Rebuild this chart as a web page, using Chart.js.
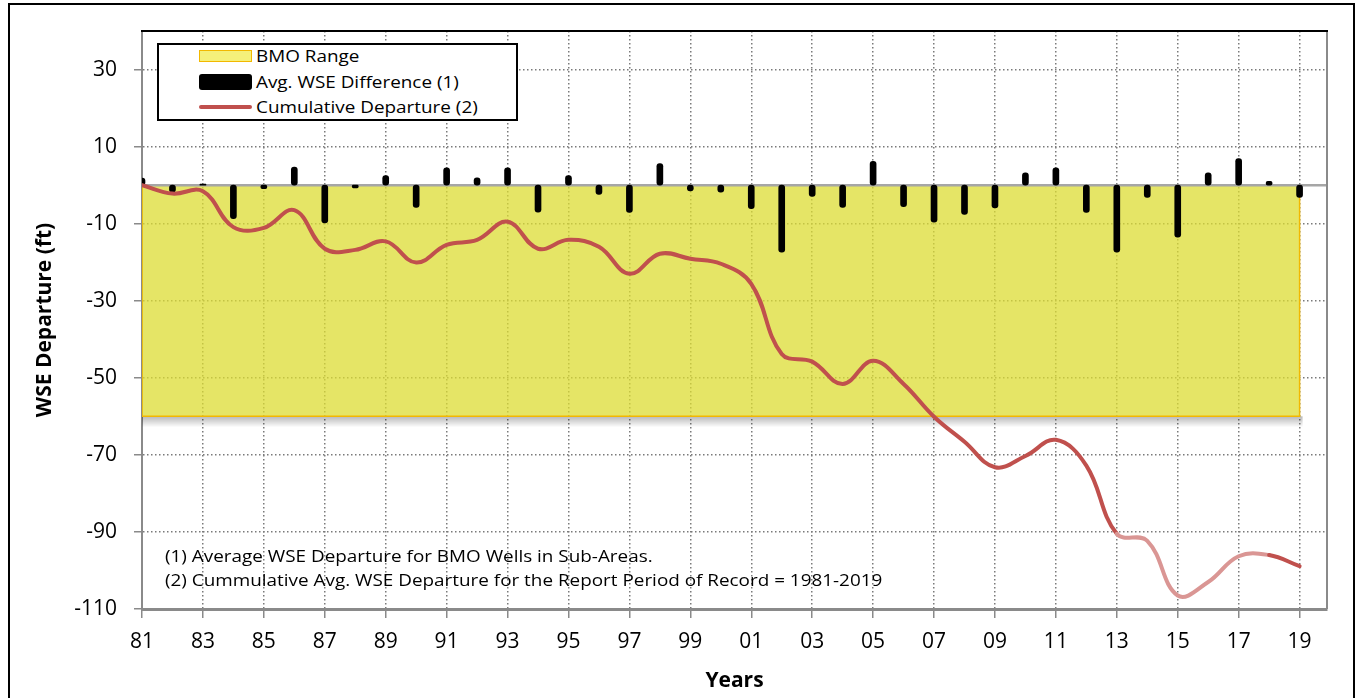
<!DOCTYPE html>
<html>
<head>
<meta charset="utf-8">
<script src="https://cdn.jsdelivr.net/npm/chart.js@4.4.0/dist/chart.umd.min.js"></script>
<style>
  html, body { margin: 0; padding: 0; background: #fff; }
  #wrap { position: relative; width: 1364px; height: 698px; overflow: hidden; font-family: "Open Sans", sans-serif; }
  #frame { position: absolute; left: 8px; top: 3px; width: 1347px; height: 740px; border: 2px solid #000; box-sizing: border-box; }
  #chart { position: absolute; left: 0; top: 0; }
  #legend { position: absolute; left: 157px; top: 43px; width: 361px; height: 78px; border: 2px solid #000; background: #fff; box-sizing: border-box; }
  .item { position: absolute; left: 0; width: 100%; height: 24px; }
  .swatch { position: absolute; left: 40px; width: 53px; top: 50%; transform: translateY(-50%); box-sizing: border-box; }
  .item span { position: absolute; left: 97px; top: 50%; transform: translateY(-50%) scaleX(1.18); transform-origin: left center; font-size: 16px; color: #000; white-space: nowrap; line-height: 1; }
  .note { position: absolute; left: 165px; font-size: 16px; color: #000; white-space: nowrap; line-height: 1; transform: translateY(-50%) scaleX(1.18); transform-origin: left center; }
</style>
</head>
<body>
<div id="wrap">
  <div id="frame"></div>
  <canvas id="chart" width="1364" height="698"></canvas>
  <div id="legend"></div>
  <div class="note" style="top:556px">(1) Average WSE Departure for BMO Wells in Sub-Areas.</div>
  <div class="note" style="top:580px">(2) Cummulative Avg. WSE Departure for the Report Period of Record = 1981-2019</div>
</div>
<script>
// years 1981 - 2019
const years = [1981, 1982, 1983, 1984, 1985, 1986, 1987, 1988, 1989, 1990,
               1991, 1992, 1993, 1994, 1995, 1996, 1997, 1998, 1999, 2000,
               2001, 2002, 2003, 2004, 2005, 2006, 2007, 2008, 2009, 2010,
               2011, 2012, 2013, 2014, 2015, 2016, 2017, 2018, 2019];

// Avg. WSE Difference (1), ft
const avgWseDiff = [1.8, -1.8, 0.3, -8.7, -0.9, 4.7, -9.8, -0.7, 2.5, -5.8,
                    4.5, 1.9, 4.5, -7.0, 2.5, -2.4, -7.1, 5.6, -1.5, -1.8,
                    -6.1, -17.4, -2.9, -5.8, 6.2, -5.6, -9.6, -7.6, -5.9, 3.2,
                    4.5, -7.1, -17.4, -3.2, -13.5, 3.2, 6.9, 1.0, -3.2];

// Cumulative Departure (2), ft
const cumDeparture = [0, -2.2, -1.6, -10.9, -11.1, -6.5, -16.5, -16.8, -14.6, -20.1,
                      -15.5, -14.2, -9.5, -16.5, -14.2, -16.0, -23.0, -17.8, -19.1, -20.4,
                      -25.6, -43.8, -45.8, -51.6, -45.6, -51.6, -60.1, -66.6, -73.2, -70.3,
                      -66.1, -72.8, -90.5, -92.3, -106.5, -103.0, -96.3, -96.0, -98.9];

// BMO range (top, bottom) and the years it covers
const bmoRange = [0, -60];
const bmoYears = [1981, 2019];

// axis ticks
const xTickYears = [1981, 1983, 1985, 1987, 1989, 1991, 1993, 1995, 1997, 1999,
                    2001, 2003, 2005, 2007, 2009, 2011, 2013, 2015, 2017, 2019];
const xTickLabels = ['81', '83', '85', '87', '89', '91', '93', '95', '97', '99',
                     '01', '03', '05', '07', '09', '11', '13', '15', '17', '19'];
const yTickValues = [-110, -90, -70, -50, -30, -10, 10, 30];

const labels = ['BMO Range', 'Avg. WSE Difference (1)', 'Cumulative Departure (2)'];

const RED = '#C0504D';
const RED_LIGHT = '#DA9694';
const YELLOW = 'rgba(220, 220, 51, 0.75)';
const ORANGE = '#F2B800';
const AXIS_GREY = '#8A8A8A';
const GRID_GREY = '#7A7A7A';
const FONT = '"Open Sans", sans-serif';

// html legend
const legendEl = document.getElementById('legend');
const swatches = [
    'height:12px;background:#F5F07A;border:1.5px solid ' + ORANGE + ';',
    'height:16px;background:#000;border-radius:3px;',
    'height:4px;background:' + RED + ';border-radius:2px;'
];
const rowCenters = [11, 37, 62];
labels.forEach(function(txt, i) {
    const row = document.createElement('div');
    row.className = 'item';
    row.style.top = (rowCenters[i] - 12) + 'px';
    row.innerHTML = '<div class="swatch" style="' + swatches[i] + '"></div><span>' + txt + '</span>';
    legendEl.appendChild(row);
});

// zero line under the bars, shadow under the BMO box, plot frame
const extras = {
    id: 'extras',
    beforeDatasetsDraw(chart) {
        const { ctx, scales: { x, y } } = chart;
        const x0 = x.getPixelForValue(bmoYears[0]);
        const x1 = x.getPixelForValue(bmoYears[1]);
        const yb = y.getPixelForValue(bmoRange[1]);
        const g = ctx.createLinearGradient(0, yb, 0, yb + 11);
        g.addColorStop(0, 'rgba(0,0,0,0.28)');
        g.addColorStop(1, 'rgba(0,0,0,0)');
        ctx.save();
        ctx.fillStyle = g;
        ctx.fillRect(x0, yb, x1 - x0 + 3, 11);
        ctx.restore();
    },
    beforeDatasetDraw(chart, args) {
        if (args.meta.type !== 'bar') return;
        const { ctx, chartArea, scales: { y } } = chart;
        const yz = y.getPixelForValue(0);
        ctx.save();
        ctx.strokeStyle = '#A6A6A6';
        ctx.lineWidth = 2.5;
        ctx.beginPath();
        ctx.moveTo(chartArea.left, yz);
        ctx.lineTo(chartArea.right, yz);
        ctx.stroke();
        ctx.restore();
    },
    afterDatasetsDraw(chart) {
        const { ctx, chartArea: a } = chart;
        ctx.save();
        ctx.strokeStyle = AXIS_GREY;
        ctx.lineWidth = 2;
        ctx.beginPath();
        ctx.moveTo(a.right, a.top);
        ctx.lineTo(a.right, a.bottom);
        ctx.stroke();
        ctx.strokeStyle = '#000';
        ctx.beginPath();
        ctx.moveTo(a.left - 1, a.top);
        ctx.lineTo(a.right + 1, a.top);
        ctx.stroke();
        ctx.restore();
    }
};

const ctx = document.getElementById('chart').getContext('2d');

new Chart(ctx, {
    type: 'bar',
    data: {
        datasets: [
            {
                type: 'line',
                label: labels[2],
                data: years.map((yr, i) => ({ x: yr, y: cumDeparture[i] })),
                borderColor: RED,
                borderWidth: 4,
                borderCapStyle: 'round',
                pointRadius: 0,
                tension: 0.4,
                fill: false,
                order: 0,
                segment: {
                    // faded stretch of the line, 2013 - 2018
                    borderColor: c => (c.p0DataIndex >= 32 && c.p0DataIndex <= 36) ? RED_LIGHT : RED
                }
            },
            {
                type: 'bar',
                label: labels[1],
                data: years.map((yr, i) => ({ x: yr, y: avgWseDiff[i] })),
                backgroundColor: '#000',
                barThickness: 6,
                borderRadius: 3,
                borderSkipped: false,
                order: 1
            },
            {
                type: 'line',
                label: labels[0],
                data: [
                    { x: bmoYears[0], y: bmoRange[0] },
                    { x: bmoYears[0], y: bmoRange[1] },
                    { x: bmoYears[1], y: bmoRange[1] },
                    { x: bmoYears[1], y: bmoRange[0] }
                ],
                borderColor: ORANGE,
                borderWidth: 1.5,
                backgroundColor: YELLOW,
                pointRadius: 0,
                tension: 0,
                fill: { value: bmoRange[0] },
                order: 2
            }
        ]
    },
    options: {
        responsive: false,
        animation: false,
        layout: {
            padding: { top: 31, right: 37, bottom: 0, left: 24 }
        },
        plugins: {
            legend: { display: false },
            tooltip: { enabled: false }
        },
        scales: {
            x: {
                type: 'linear',
                offset: false,
                min: 1981,
                max: 2019.9,
                afterBuildTicks: s => { s.ticks = xTickYears.map(v => ({ value: v })); },
                afterFit: s => { s.height = 89; },
                ticks: {
                    autoSkip: false,
                    maxRotation: 0,
                    padding: 11,
                    color: '#000',
                    font: { family: FONT, size: 21 },
                    callback: function(value) {
                        const k = xTickYears.indexOf(value);
                        return k >= 0 ? xTickLabels[k] : '';
                    }
                },
                grid: {
                    offset: false,
                    color: GRID_GREY,
                    lineWidth: 1.5,
                    tickLength: 9,
                    tickColor: AXIS_GREY,
                    tickBorderDash: [1, 0],
                    tickWidth: 1.5
                },
                border: { display: true, color: AXIS_GREY, width: 3, dash: [1.5, 2.5] },
                title: {
                    display: true,
                    text: 'Years',
                    color: '#000',
                    font: { family: FONT, size: 21, weight: 'bold' },
                    padding: { top: 0, bottom: 4 }
                }
            },
            y: {
                min: -110,
                max: 40,
                afterBuildTicks: s => { s.ticks = yTickValues.map(v => ({ value: v })); },
                afterFit: s => { s.width = 118; },
                ticks: {
                    padding: 17,
                    color: '#000',
                    font: { family: FONT, size: 21 }
                },
                grid: {
                    color: GRID_GREY,
                    lineWidth: 1.5,
                    tickLength: 8,
                    tickColor: AXIS_GREY,
                    tickBorderDash: [1, 0],
                    tickWidth: 1.5
                },
                border: { display: true, color: AXIS_GREY, width: 2, dash: [1.5, 2.5] },
                title: {
                    display: true,
                    text: 'WSE Departure (ft)',
                    color: '#000',
                    font: { family: FONT, size: 21, weight: 'bold' },
                    padding: { top: 8, bottom: 0 }
                }
            }
        }
    },
    plugins: [extras]
});
</script>
</body>
</html>
